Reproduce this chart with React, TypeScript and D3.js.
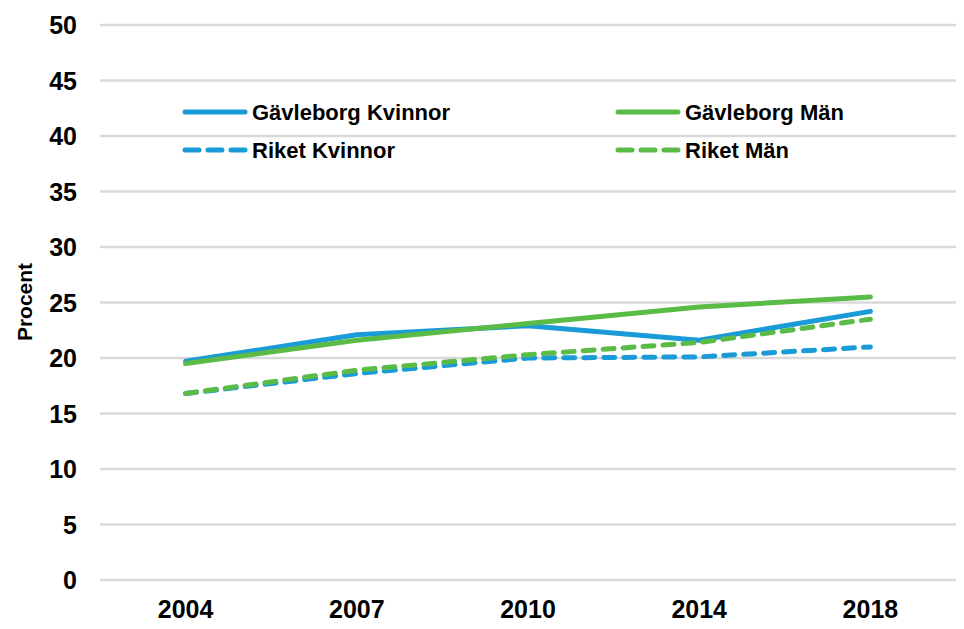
import React, { useEffect, useRef } from 'react';
import * as d3 from 'd3';

const years = ['2004', '2007', '2010', '2014', '2018'];
const gavleborgKvinnor = [19.7, 22.1, 22.9, 21.6, 24.2];
const gavleborgMan = [19.5, 21.6, 23.1, 24.6, 25.5];
const riketKvinnor = [16.8, 18.6, 20.0, 20.1, 21.0];
const riketMan = [16.8, 18.9, 20.3, 21.4, 23.5];
const yTicks = [0, 5, 10, 15, 20, 25, 30, 35, 40, 45, 50];

const BLUE = '#1a9bd7';
const GREEN = '#5bbb47';

const series = [
  { name: 'Gävleborg Kvinnor', values: gavleborgKvinnor, color: BLUE, dashed: false },
  { name: 'Gävleborg Män', values: gavleborgMan, color: GREEN, dashed: false },
  { name: 'Riket Kvinnor', values: riketKvinnor, color: BLUE, dashed: true },
  { name: 'Riket Män', values: riketMan, color: GREEN, dashed: true },
];

const App = () => {
  const svgRef = useRef<SVGSVGElement>(null);
  const width = 964;
  const height = 629;

  useEffect(() => {
    const svg = d3.select(svgRef.current);
    svg.selectAll('*').remove();

    const left = 100;
    const right = 956;
    const top = 25;
    const bottom = 580;
    const font = '"Liberation Sans", Arial, sans-serif';

    const x = d3.scalePoint<string>()
      .domain(years)
      .range([left, right])
      .padding(0.5);

    const y = d3.scaleLinear()
      .domain([0, 50])
      .range([bottom, top]);

    // gridlines
    svg.append('g')
      .selectAll('line')
      .data(yTicks)
      .enter()
      .append('line')
      .attr('x1', left)
      .attr('x2', right)
      .attr('y1', d => y(d))
      .attr('y2', d => y(d))
      .attr('stroke', '#d9d9d9')
      .attr('stroke-width', 2.5);

    // y tick labels
    svg.append('g')
      .selectAll('text')
      .data(yTicks)
      .enter()
      .append('text')
      .attr('x', 77)
      .attr('y', d => y(d))
      .attr('dy', '0.36em')
      .attr('text-anchor', 'end')
      .style('font-family', font)
      .style('font-size', '25px')
      .style('font-weight', 'bold')
      .text(d => d);

    // x tick labels
    svg.append('g')
      .selectAll('text')
      .data(years)
      .enter()
      .append('text')
      .attr('x', d => x(d) as number)
      .attr('y', 618)
      .attr('text-anchor', 'middle')
      .style('font-family', font)
      .style('font-size', '25px')
      .style('font-weight', 'bold')
      .text(d => d);

    // axis title
    svg.append('text')
      .attr('transform', 'translate(24,302) rotate(-90)')
      .attr('dy', '0.36em')
      .attr('text-anchor', 'middle')
      .style('font-family', font)
      .style('font-size', '21px')
      .style('font-weight', 'bold')
      .text('Procent');

    const line = d3.line<number>()
      .x((_, i) => x(years[i]) as number)
      .y(d => y(d));

    series.forEach(s => {
      svg.append('path')
        .datum(s.values)
        .attr('d', line)
        .attr('fill', 'none')
        .attr('stroke', s.color)
        .attr('stroke-width', 5)
        .attr('stroke-linejoin', 'round')
        .attr('stroke-linecap', 'round')
        .attr('stroke-dasharray', s.dashed ? '11 9' : null);
    });

    // legend
    const legendPos = [
      { x: 185, y: 112 },
      { x: 618, y: 112 },
      { x: 185, y: 150 },
      { x: 618, y: 150 },
    ];

    series.forEach((s, i) => {
      const p = legendPos[i];
      const g = svg.append('g').attr('transform', `translate(${p.x},${p.y})`);
      g.append('line')
        .attr('x1', 0)
        .attr('x2', 60)
        .attr('y1', 0)
        .attr('y2', 0)
        .attr('stroke', s.color)
        .attr('stroke-width', 5)
        .attr('stroke-linecap', 'round')
        .attr('stroke-dasharray', s.dashed ? '14 9' : null);
      g.append('text')
        .attr('x', 67)
        .attr('y', 0)
        .attr('dy', '0.36em')
        .style('font-family', font)
        .style('font-size', '22px')
        .style('font-weight', 'bold')
        .text(s.name);
    });
  }, []);

  return (
    <svg
      ref={svgRef}
      width={width}
      height={height}
      style={{ position: 'absolute', left: 0, top: 0, background: '#fff' }}
    />
  );
};

export default App;
